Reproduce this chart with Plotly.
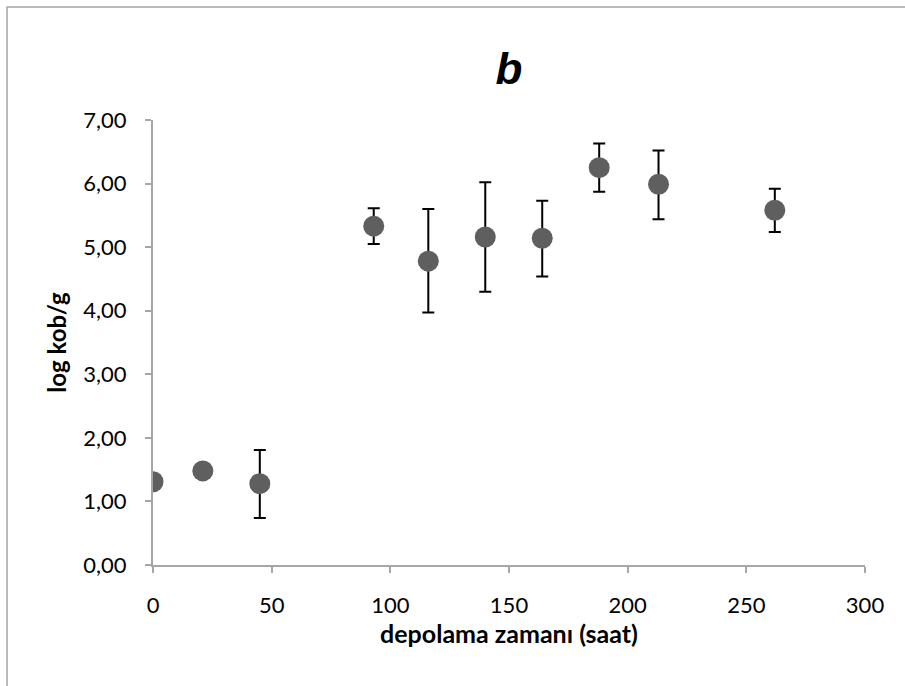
import plotly.graph_objects as go

hours = [0, 21, 45, 93, 116, 140, 164, 188, 213, 262]
log_cfu = [1.31, 1.48, 1.28, 5.33, 4.78, 5.16, 5.14, 6.25, 5.99, 5.58]
err_plus = [0.0, 0.0, 0.53, 0.28, 0.82, 0.86, 0.59, 0.38, 0.53, 0.34]
err_minus = [0.0, 0.0, 0.54, 0.28, 0.81, 0.86, 0.60, 0.38, 0.55, 0.34]

y_tickvals = [0, 1, 2, 3, 4, 5, 6, 7]
y_ticktext = ["0,00", "1,00", "2,00", "3,00", "4,00", "5,00", "6,00", "7,00"]
x_tickvals = [0, 50, 100, 150, 200, 250, 300]

font_family = "Lato, 'Open Sans', sans-serif"

fig = go.Figure()
fig.add_trace(go.Scatter(
    x=hours, y=log_cfu, mode="markers",
    marker=dict(size=21, color="#5f5f5f"),
    error_y=dict(type="data", symmetric=False, array=err_plus, arrayminus=err_minus,
                 color="black", thickness=2, width=6),
    showlegend=False,
))

fig.update_layout(
    width=905, height=686,
    margin=dict(l=153, r=40, t=120, b=121),
    paper_bgcolor="white", plot_bgcolor="white",
    font=dict(family=font_family, color="black"),
    title=dict(text="<b><i>b</i></b>", x=0.5, xref="paper", xanchor="center",
               y=0.9, yanchor="middle", font=dict(size=44, family="Liberation Sans")),
    xaxis=dict(range=[0, 300], tickvals=x_tickvals, showgrid=False, zeroline=False,
               showline=True, linecolor="#a6a6a6", linewidth=2,
               ticks="outside", ticklen=6, tickcolor="#a6a6a6", tickwidth=2,
               tickfont=dict(size=22), ticklabelstandoff=14,
               title=dict(text="<b>depolama zamanı (saat)</b>", font=dict(size=25), standoff=6)),
    yaxis=dict(range=[0, 7], tickvals=y_tickvals, ticktext=y_ticktext, showgrid=False,
               zeroline=False, showline=True, linecolor="#a6a6a6", linewidth=2,
               ticks="outside", ticklen=6, tickcolor="#a6a6a6", tickwidth=2,
               tickfont=dict(size=22), ticklabelstandoff=14,
               title=dict(text="<b>log kob/g</b>", font=dict(size=24), standoff=10)),
    shapes=[dict(type="rect", xref="paper", yref="paper",
                 x0=-0.205, x1=1.2, y0=-0.4, y1=1.254,
                 line=dict(color="#a6a6a6", width=1.5), fillcolor="rgba(0,0,0,0)",
                 layer="below")],
)

fig.write_html("out.html")
